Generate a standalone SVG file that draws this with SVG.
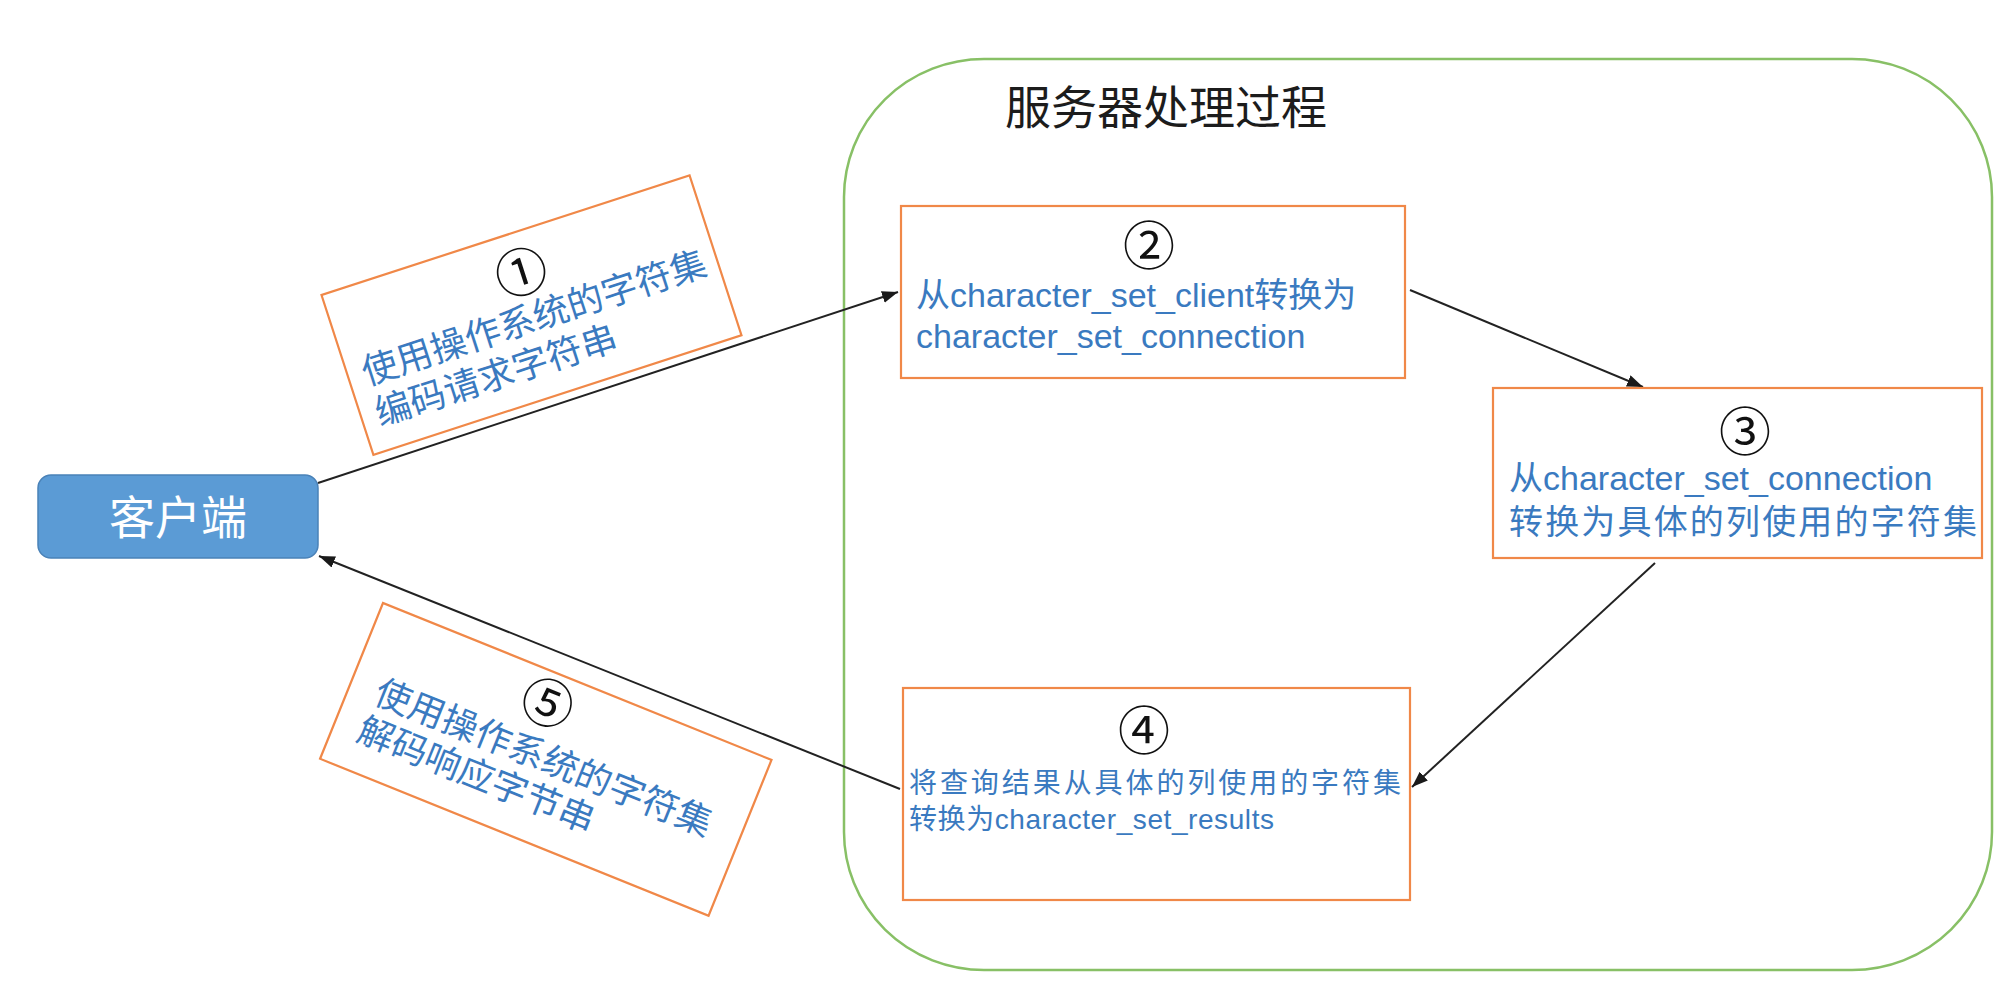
<svg xmlns="http://www.w3.org/2000/svg" width="2006" height="986" viewBox="0 0 2006 986">
  <defs>
    <marker id="arrow" markerUnits="userSpaceOnUse" markerWidth="17" markerHeight="13" refX="16" refY="6" orient="auto">
      <path d="M0,0 L16,6 L0,12 z" fill="#1a1a1a"/>
    </marker>
    <style>
      .step { fill: #ffffff; stroke: #F08848; stroke-width: 2.2; }
      .note { fill: #ffffff; stroke: #F08848; stroke-width: 2.2; }
      .txt { font-family: "Liberation Sans", "Noto Sans CJK SC", sans-serif; fill: #3A7AC0; }
      .num { font-family: "Noto Sans CJK SC", sans-serif; fill: #111111; text-anchor: middle; dominant-baseline: central; font-size: 52px; }
      .link { fill: none; stroke: #222222; stroke-width: 2; marker-end: url(#arrow); }
    </style>
  </defs>

  <rect width="2006" height="986" fill="#ffffff"/>

  <!-- server processing container -->
  <g id="server">
    <rect x="844" y="59" width="1148" height="911" rx="140" ry="138" fill="none" stroke="#88C066" stroke-width="2.5"/>
    <text x="1166" y="124" text-anchor="middle" font-family="'Noto Sans CJK SC', sans-serif" font-size="46" fill="#1c1c1c">服务器处理过程</text>
  </g>

  <!-- client -->
  <g id="client">
    <rect x="38" y="475" width="280" height="83" rx="13" fill="#5B9BD5" stroke="#4A82B8" stroke-width="1.5"/>
    <text x="178" y="534" text-anchor="middle" font-family="'Noto Sans CJK SC', sans-serif" font-size="46" fill="#ffffff">客户端</text>
  </g>

  <!-- connectors -->
  <g id="connectors">
    <line class="link" x1="318" y1="483" x2="898" y2="292" stroke="#444444" stroke-width="1.4"/>
    <line class="link" x1="1410" y1="290" x2="1643" y2="387"/>
    <line class="link" x1="1655" y1="563" x2="1412" y2="787"/>
    <line class="link" x1="900" y1="789" x2="319" y2="556"/>
  </g>

  <!-- step 1: request encoding -->
  <g id="note-1" transform="translate(321.5,295) rotate(-18)">
    <rect class="note" x="0" y="0" width="387" height="168"/>
    <text class="num" x="197" y="37">①</text>
    <text class="txt" x="15" y="100" font-size="36">使用操作系统的字符集</text>
    <text class="txt" x="15" y="143" font-size="36">编码请求字符串</text>
  </g>

  <!-- step 2 -->
  <g id="step-2">
    <rect class="step" x="901" y="206" width="504" height="172"/>
    <text class="num" x="1149" y="242">②</text>
    <text class="txt" x="916" y="307" font-size="34">从character_set_client转换为</text>
    <text class="txt" x="916" y="348" font-size="34">character_set_connection</text>
  </g>

  <!-- step 3 -->
  <g id="step-3">
    <rect class="step" x="1493" y="388" width="489" height="170"/>
    <text class="num" x="1745" y="428">③</text>
    <text class="txt" x="1509" y="490" font-size="34">从character_set_connection</text>
    <text class="txt" x="1509" y="534" font-size="34" textLength="468" lengthAdjust="spacing">转换为具体的列使用的字符集</text>
  </g>

  <!-- step 4 -->
  <g id="step-4">
    <rect class="step" x="903" y="688" width="507" height="212"/>
    <text class="num" x="1144" y="727">④</text>
    <text class="txt" x="909" y="793" font-size="28" textLength="492" lengthAdjust="spacing">将查询结果从具体的列使用的字符集</text>
    <text class="txt" x="909" y="829" font-size="28" textLength="365" lengthAdjust="spacing">转换为character_set_results</text>
  </g>

  <!-- step 5: response decoding -->
  <g id="note-5" transform="translate(383,603) rotate(22)">
    <rect class="note" x="0" y="0" width="419" height="168"/>
    <text class="num" x="190" y="28">⑤</text>
    <text class="txt" x="27" y="96" font-size="36">使用操作系统的字符集</text>
    <text class="txt" x="25" y="137" font-size="36">解码响应字节串</text>
  </g>
</svg>
